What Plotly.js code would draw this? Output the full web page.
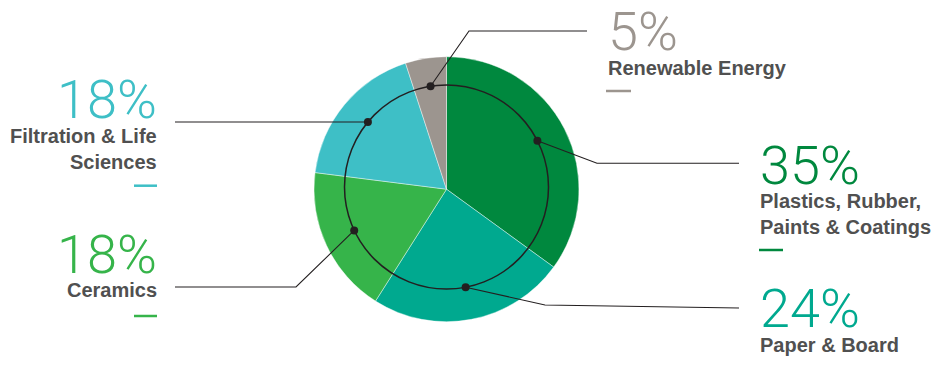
<!DOCTYPE html>
<html><head><meta charset="utf-8">
<script src="https://cdn.plot.ly/plotly-3.0.1.min.js"></script>
<style>html,body{margin:0;padding:0;background:#fff;}#chart{width:936px;height:365px;}</style>
</head><body><div id="chart"></div>
<script>
// ---- data ----
const categories = ['Plastics, Rubber, Paints & Coatings', 'Paper & Board', 'Ceramics', 'Filtration & Life Sciences', 'Renewable Energy'];
const values = [35, 24, 18, 18, 5];
const pctLabels = ['35%', '24%', '18%', '18%', '5%'];
const nameLabels = ['Plastics, Rubber,<br>Paints & Coatings', 'Paper & Board', 'Ceramics', 'Filtration & Life<br>Sciences', 'Renewable Energy'];
const colors = ['#00883e', '#00a98f', '#36b44a', '#3ebfc6', '#9c958f'];

// ---- layout (pixel units on a hidden overlay axis) ----
const W = 936, H = 365;
const pieGeom = {cx: 446.5, cy: 189.2, r: 132.5};
const ringGeom = {cx: 446.5, cy: 187, r: 102};
const labelLayout = [
  {x: 759, anchor: 'left', pctY: 165, nameY: 214, dash: [759, 783, 250], leader: [[597, 163.3], [739, 163.3]]},
  {x: 759, anchor: 'left', pctY: 308.7, nameY: 345.3, dash: null, leader: [[545, 305], [739, 308]]},
  {x: 158, anchor: 'right', pctY: 254, nameY: 290.3, dash: [134, 157, 316], leader: [[296, 287], [175, 287]]},
  {x: 158, anchor: 'right', pctY: 99, nameY: 149, dash: [134, 157, 185.7], leader: [[175, null]]},
  {x: 606.5, anchor: 'left', pctY: 31.3, nameY: 68, dash: [606, 631, 91], leader: [[469, 31], [587, 31]]}
];
const pctFont = {family: 'Roboto, "Open Sans", sans-serif', size: 54, weight: 300};
const nameFont = {family: '"Liberation Sans", Arial, sans-serif', size: 20, weight: 'bold', color: '#505050'};
const inkColor = '#231f20';

// ---- dot positions from slice midpoints ----
const total = values.reduce((a, b) => a + b, 0);
let cum = 0;
const dots = values.map(v => {
  const a = (cum + v / 2) / total * 2 * Math.PI;
  cum += v;
  return [ringGeom.cx + ringGeom.r * Math.sin(a), ringGeom.cy - ringGeom.r * Math.cos(a)];
});

const shapes = [];
// inner ring
shapes.push({type: 'circle', xref: 'x', yref: 'y', layer: 'above',
  x0: ringGeom.cx - ringGeom.r, x1: ringGeom.cx + ringGeom.r,
  y0: ringGeom.cy - ringGeom.r, y1: ringGeom.cy + ringGeom.r,
  line: {color: inkColor, width: 1.5}});
const annotations = [];
dots.forEach((d, i) => {
  const L = labelLayout[i];
  let path = 'M' + d[0] + ',' + d[1];
  L.leader.forEach(p => { path += ' L' + p[0] + ',' + (p[1] === null ? d[1] : p[1]); });
  shapes.push({type: 'path', xref: 'x', yref: 'y', layer: 'above', path: path,
    line: {color: inkColor, width: 1.1}});
  shapes.push({type: 'circle', xref: 'x', yref: 'y', layer: 'above',
    x0: d[0] - 4, x1: d[0] + 4, y0: d[1] - 4, y1: d[1] + 4,
    fillcolor: inkColor, line: {width: 0}});
  if (L.dash) {
    shapes.push({type: 'line', xref: 'x', yref: 'y', layer: 'above',
      x0: L.dash[0], x1: L.dash[1], y0: L.dash[2], y1: L.dash[2],
      line: {color: colors[i], width: 2.5}});
  }
  annotations.push({xref: 'x', yref: 'y', x: L.x, y: L.pctY, xanchor: L.anchor, yanchor: 'middle',
    text: pctLabels[i], showarrow: false, borderpad: 0,
    font: Object.assign({}, pctFont, {color: colors[i]})});
  annotations.push({xref: 'x', yref: 'y', x: L.x, y: L.nameY, xanchor: L.anchor, yanchor: 'middle',
    align: L.anchor, text: nameLabels[i], showarrow: false, borderpad: 0, font: nameFont});
});

const data = [
  {type: 'pie', labels: categories, values: values, sort: false, direction: 'clockwise', rotation: 0,
   marker: {colors: colors, line: {color: 'rgba(255,255,255,0.7)', width: 0.6}},
   textinfo: 'none', hoverinfo: 'none', showlegend: false,
   domain: {x: [(pieGeom.cx - pieGeom.r) / W, (pieGeom.cx + pieGeom.r) / W],
            y: [1 - (pieGeom.cy + pieGeom.r) / H, 1 - (pieGeom.cy - pieGeom.r) / H]}},
  {type: 'scatter', x: dots.map(d => d[0]), y: dots.map(d => d[1]), mode: 'markers',
   marker: {size: 1, color: 'rgba(0,0,0,0)'}, hoverinfo: 'none', showlegend: false}
];

const layout = {
  width: W, height: H, margin: {l: 0, r: 0, t: 0, b: 0},
  paper_bgcolor: '#ffffff', plot_bgcolor: 'rgba(0,0,0,0)',
  xaxis: {range: [0, W], visible: false, fixedrange: true},
  yaxis: {range: [H, 0], visible: false, fixedrange: true},
  shapes: shapes, annotations: annotations, showlegend: false
};
Plotly.newPlot('chart', data, layout, {displayModeBar: false, staticPlot: true});
</script></body></html>
